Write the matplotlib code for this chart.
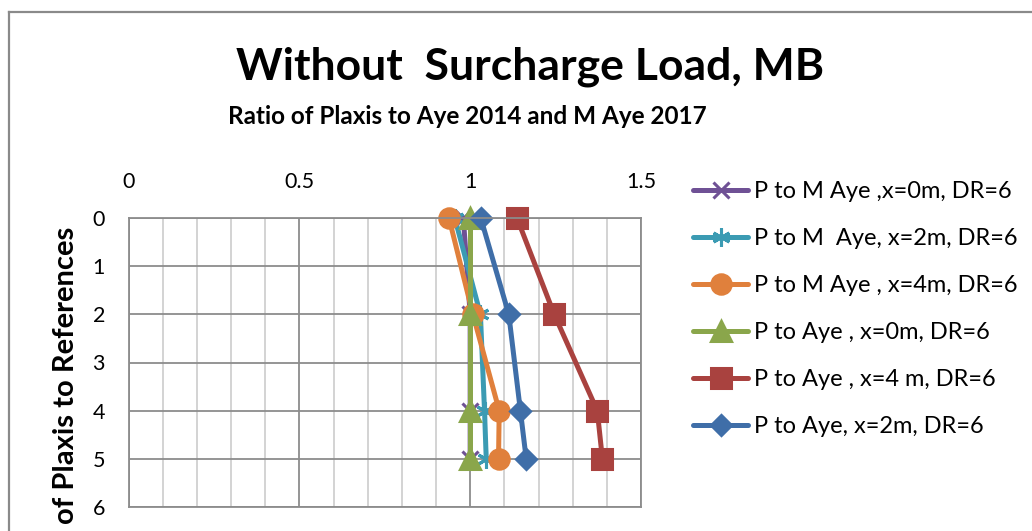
import matplotlib.pyplot as plt
from matplotlib.lines import Line2D
from matplotlib.ticker import MultipleLocator

plt.rcParams['font.family'] = ['Lato', 'DejaVu Sans']

# depth (rows of the chart, y axis reversed)
depth = [0, 2, 4, 5]

# ratios
p_maye_x0 = [0.98, 1.0, 1.0, 1.0]
p_maye_x2 = [0.955, 1.03, 1.042, 1.047]
p_maye_x4 = [0.938, 1.008, 1.085, 1.083]
p_aye_x0 = [1.0, 1.0, 1.0, 1.0]
p_aye_x4 = [1.137, 1.246, 1.372, 1.387]
p_aye_x2 = [1.031, 1.113, 1.147, 1.164]

labels = ['P to M Aye ,x=0m, DR=6', 'P to M  Aye, x=2m, DR=6', 'P to M Aye , x=4m, DR=6',
          'P to Aye , x=0m, DR=6', 'P to Aye , x=4 m, DR=6', 'P to Aye, x=2m, DR=6']
series = [p_maye_x0, p_maye_x2, p_maye_x4, p_aye_x0, p_aye_x4, p_aye_x2]
colors = ['#6F5195', '#3B9BB3', '#E0803C', '#8AA64B', '#A9423F', '#3F6EA8']
markers = ['x', (6, 2, 0), 'o', '^', 's', 'D']
msizes = [12, 13, 14, 14, 14, 10]

fig = plt.figure(figsize=(10.32, 5.31), dpi=100)
ax = fig.add_axes([128.5 / 1032, 1 - 507 / 531, (641 - 128.5) / 1032, (507 - 218) / 531])

for y, lab, c, m, ms in zip(series, labels, colors, markers, msizes):
    ax.plot(y, depth, color=c, lw=3.6, marker=m, ms=ms, mew=2.2, label=lab,
            solid_capstyle='round', clip_on=False)

ax.set_xlim(0, 1.5)
ax.set_ylim(6, 0)
ax.xaxis.set_major_locator(MultipleLocator(0.5))
ax.xaxis.set_minor_locator(MultipleLocator(0.1))
ax.set_xticks([0, 0.5, 1, 1.5], ['0', '0.5', '1', '1.5'])
ax.set_yticks(range(7))
ax.xaxis.tick_top()
ax.tick_params(axis='both', which='both', length=0, labelsize=15.5)
ax.tick_params(axis='x', pad=19)
ax.tick_params(axis='y', pad=17)
ax.grid(True, which='major', color='#8C8C8C', lw=1.3)
ax.grid(True, which='minor', axis='x', color='#D0D0D0', lw=1.3)
ax.set_axisbelow(True)
for s in ax.spines.values():
    s.set_color('#8C8C8C')
    s.set_linewidth(1.3)

fig.text(530 / 1032, 1 - 67 / 531, 'Without  Surcharge Load, MB', ha='center', va='center',
         fontsize=32, fontweight='bold')
fig.text(467 / 1032, 1 - 116 / 531, 'Ratio of Plaxis to Aye 2014 and M Aye 2017', ha='center',
         va='center', fontsize=17.5, fontweight='bold')
# only the visible part of the axis title (the chart crop hides its start)
fig.text(66 / 1032, 1 - 227 / 531, 'of Plaxis to References', rotation=90, ha='center',
         va='top', fontsize=21, fontweight='bold')

fig.legend(loc='upper left', bbox_to_anchor=(693 / 1032, 1 - 181 / 531), frameon=False,
           fontsize=17, handlelength=2.35, handletextpad=0.25, labelspacing=1.1,
           borderaxespad=0, borderpad=0)

# outer chart border (top and left edges visible)
fig.add_artist(Line2D([9 / 1032, 1], [1 - 12 / 531] * 2, color='#8A8A8A', lw=1.6))
fig.add_artist(Line2D([9 / 1032] * 2, [0, 1 - 12 / 531], color='#8A8A8A', lw=1.6))

fig.savefig('out.png', dpi=100)
